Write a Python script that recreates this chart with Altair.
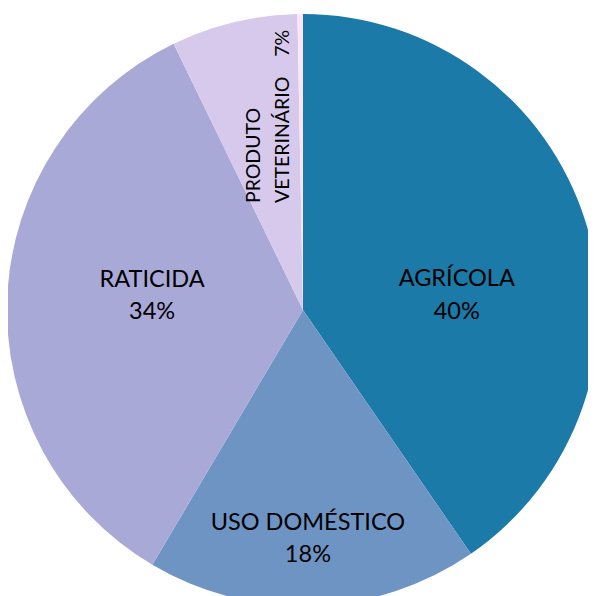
import altair as alt
import pandas as pd

categories = ["AGRÍCOLA", "USO DOMÉSTICO", "RATICIDA", "PRODUTO VETERINÁRIO", "OUTROS"]
values = [40.4, 18.1, 34.3, 6.9, 0.3]
pct_labels = ["40%", "18%", "34%", "7%", ""]
colors = ["#1b7aa8", "#6e94c4", "#a9a9d8", "#d7c9eb", "#fce6f6"]

df = pd.DataFrame({
    "cat": categories,
    "value": values,
    "pct": pct_labels,
    "idx": list(range(len(categories))),
})

CX, CY, R = 295, 302, 296

base = alt.Chart(df).encode(
    theta=alt.Theta("value:Q", stack=True),
    order=alt.Order("idx:Q", sort="ascending"),
    x=alt.value(CX),
    y=alt.value(CY),
)

pie = base.mark_arc(outerRadius=R, stroke=None).encode(
    color=alt.Color("cat:N", scale=alt.Scale(domain=categories, range=colors), legend=None)
)


def label_layer(cat, expr, radius, dx=0, dy=0, **kw):
    return base.transform_calculate(
        t=f"datum.cat === '{cat}' ? {expr} : ''"
    ).mark_text(
        radius=radius, dx=dx, dy=dy, font="Lato", color="#000000", **kw
    ).encode(text="t:N")


lab_agri = label_layer("AGRÍCOLA", "[datum.cat, datum.pct]", 161, dx=0, dy=17,
                       fontSize=23.5, lineHeight=32.5, baseline="middle", align="center")
lab_uso = label_layer("USO DOMÉSTICO", "[datum.cat, datum.pct]", 229, dx=-3, dy=-16,
                      fontSize=23.5, lineHeight=32.5, baseline="middle", align="center")
lab_rat = label_layer("RATICIDA", "[datum.cat, datum.pct]", 151, dx=0, dy=-24,
                      fontSize=23.5, lineHeight=32.5, baseline="middle", align="center")
lab_vet = label_layer(
    "PRODUTO VETERINÁRIO",
    "['PRODUTO', 'VETERINÁRIO\u00a0\u00a0\u00a0\u00a0' + datum.pct]",
    110, dx=0, dy=-17,
    fontSize=19.5, lineHeight=29, baseline="alphabetic", align="left", angle=270,
)

chart = alt.layer(pie, lab_agri, lab_uso, lab_rat, lab_vet).properties(
    width=580, height=588, padding=0, autosize=alt.AutoSizeParams(type="none")
).configure_view(stroke=None)

chart.save("out.html", embed_options={"renderer": "svg", "actions": False})
